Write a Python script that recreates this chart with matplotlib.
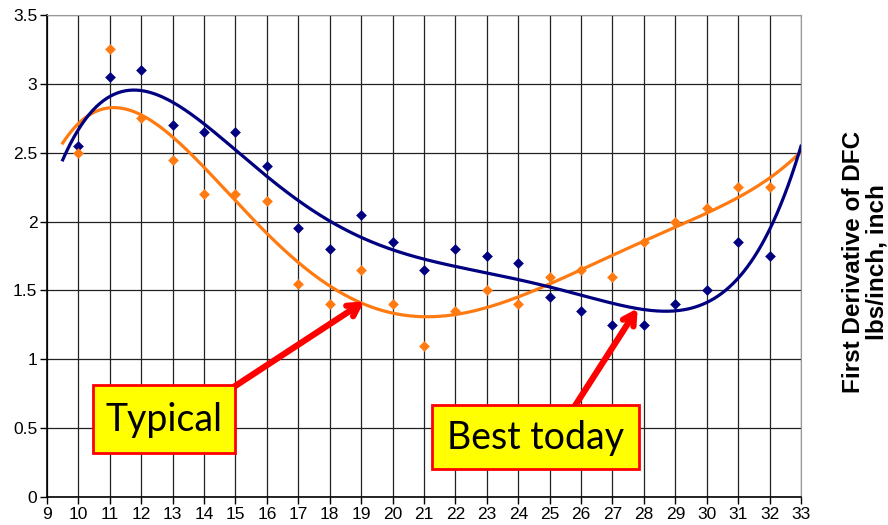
import numpy as np
import matplotlib
matplotlib.use("Agg")
import matplotlib.pyplot as plt
from matplotlib.patches import Rectangle

x = np.arange(10, 33)
navy = [2.55, 3.05, 3.1, 2.7, 2.65, 2.65, 2.4, 1.95, 1.8, 2.05, 1.85, 1.65, 1.8, 1.75, 1.7, 1.45, 1.35, 1.25, 1.25, 1.4, 1.5, 1.85, 1.75]
orange = [2.5, 3.25, 2.75, 2.45, 2.2, 2.2, 2.15, 1.55, 1.4, 1.65, 1.4, 1.1, 1.35, 1.5, 1.4, 1.6, 1.65, 1.6, 1.85, 2.0, 2.1, 2.25, 2.25]
xticks = list(range(9, 34))
yticks = [0, 0.5, 1, 1.5, 2, 2.5, 3, 3.5]
ytick_labels = ['0', '0.5', '1', '1.5', '2', '2.5', '3', '3.5']
ylabel = 'First Derivative of DFC\nlbs/inch, inch'

NAVY = '#000080'
ORANGE = '#FF7A10'
plt.rcParams['font.family'] = ['Liberation Sans', 'DejaVu Sans']

fig = plt.figure(figsize=(8.88, 5.25), dpi=100)
ax = fig.add_axes([47/888, 28/525, 754/888, 482/525])

xs = np.linspace(9.5, 33, 400)
pn = np.polyfit(x, navy, 5)
po = np.polyfit(x, orange, 5)
ax.plot(xs, np.polyval(po, xs), color=ORANGE, lw=2.3, zorder=3)
ax.plot(xs, np.polyval(pn, xs), color=NAVY, lw=2.3, zorder=3)
ax.scatter(x, navy, marker='D', color=NAVY, s=30, zorder=4, linewidths=0)
ax.scatter(x, orange, marker='D', color=ORANGE, s=30, zorder=4, linewidths=0)

ax.set_xlim(9, 33)
ax.set_ylim(0, 3.5)
ax.set_xticks(xticks)
ax.set_xticklabels([str(t) for t in xticks])
ax.set_yticks(yticks)
ax.set_yticklabels(ytick_labels)
ax.tick_params(axis='both', direction='out', length=5, width=1, color='black', pad=2,
               labelsize=12.5)
ax.grid(True, color='#222222', lw=0.9, zorder=0)
ax.set_axisbelow(True)
for s in ['top', 'right']:
    ax.spines[s].set_color('#999999')
for s in ['left', 'bottom']:
    ax.spines[s].set_color('black')
    ax.spines[s].set_linewidth(1.2)

fig.text(865/888, 1 - 262/525, ylabel, rotation=90, ha='center', va='center',
         multialignment='center', fontsize=17.5, fontweight='bold', linespacing=1.0)

# annotations
arrow_kw = dict(arrowstyle='->,head_length=0.8,head_width=0.45', color='#FF0000', lw=4.5,
                shrinkA=0, shrinkB=0)
ax.annotate('', xy=(19.1, 1.42), xytext=(14.95, 0.8), arrowprops=arrow_kw, zorder=5)
ax.annotate('', xy=(27.8, 1.37), xytext=(25.8, 0.66), arrowprops=arrow_kw, zorder=5)

ax.add_patch(Rectangle((10.48, 0.32), 4.5, 0.495, facecolor='#FFFF00', edgecolor='#FF0000',
                       lw=2, zorder=6))
ax.text(12.73, 0.56, 'Typical', ha='center', va='center', fontsize=27,
        family=['Lato', 'DejaVu Sans'], zorder=7)
ax.add_patch(Rectangle((21.25, 0.205), 6.6, 0.465, facecolor='#FFFF00', edgecolor='#FF0000',
                       lw=2, zorder=6))
ax.text(24.55, 0.43, 'Best today', ha='center', va='center', fontsize=27,
        family=['Lato', 'DejaVu Sans'], zorder=7)

fig.savefig('out.png', dpi=100)
